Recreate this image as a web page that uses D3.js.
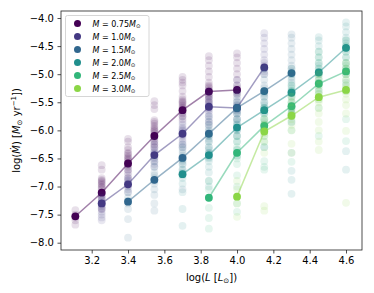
<!DOCTYPE html>
<html>
<head>
<meta charset="utf-8">
<script src="https://cdn.jsdelivr.net/npm/d3@7"></script>
<style>
  body { margin: 0; background: #fff; }
  svg { font-family: "DejaVu Sans", sans-serif; }
</style>
</head>
<body>
<svg id="chart" width="374" height="293"></svg>
<script>
// luminosity bins (log L / Lsun)
var logL = [3.11, 3.255, 3.4, 3.545, 3.70, 3.845, 4.0, 4.15, 4.3, 4.45, 4.6];

var masses = ['0.75', '1.0', '1.5', '2.0', '2.5', '3.0'];

// median log Mdot per bin, null where a mass has no models
var med075 = [-7.53, -7.11, -6.59, -6.10, -5.64, -5.31, -5.28, null, null, null, null];
var med10  = [null, -7.30, -6.96, -6.44, -6.06, -5.58, -5.60, -4.88, null, null, null];
var med15  = [null, null, -7.27, -6.88, -6.49, -6.06, -5.60, -5.30, -4.98, null, null];
var med20  = [null, null, null, null, -6.78, -6.44, -5.95, -5.64, -5.33, -4.97, -4.53];
var med25  = [null, null, null, null, null, -7.20, -6.40, -5.92, -5.57, -5.17, -4.95];
var med30  = [null, null, null, null, null, null, -7.18, -6.02, -5.74, -5.41, -5.28];

// individual models per bin
var pts075 = [
  [-7.42, -7.5, -7.53, -7.55, -7.6, -7.68],
  [-6.62, -6.7, -6.85, -6.88, -6.9, -6.92, -6.95, -6.97, -7.0, -7.02, -7.05, -7.1, -7.15, -7.2, -7.3, -7.4],
  [-6.15, -6.2, -6.3, -6.35, -6.4, -6.42, -6.45, -6.48, -6.5, -6.52, -6.55, -6.58, -6.6, -6.62, -6.65, -6.7, -6.75, -6.85],
  [-5.48, -5.55, -5.62, -5.82, -5.85, -5.88, -5.92, -5.95, -5.98, -6.0, -6.02, -6.05, -6.08, -6.1, -6.12, -6.15, -6.2, -6.25, -6.3],
  [-5.05, -5.1, -5.15, -5.2, -5.3, -5.4, -5.45, -5.48, -5.5, -5.52, -5.55, -5.58, -5.6, -5.62, -5.65, -5.68, -5.7, -5.75, -5.8],
  [-4.68, -4.75, -4.85, -4.95, -5.05, -5.15, -5.2, -5.22, -5.25, -5.28, -5.3, -5.32, -5.35, -5.38, -5.4, -5.45, -5.5],
  [-4.63, -4.7, -4.8, -4.9, -5.0, -5.1, -5.2, -5.25, -5.28, -5.32, -5.35],
  [], [], [], []
];
var pts10 = [
  [],
  [-7.15, -7.2, -7.22, -7.25, -7.28, -7.3, -7.32, -7.35, -7.38, -7.4, -7.45, -7.5, -7.55, -7.6],
  [-6.7, -6.8, -6.85, -6.88, -6.9, -6.93, -6.95, -6.98, -7.0, -7.05, -7.1],
  [-6.2, -6.25, -6.3, -6.35, -6.38, -6.4, -6.42, -6.45, -6.48, -6.5, -6.55, -6.6, -6.65],
  [-5.75, -5.85, -5.9, -5.95, -5.98, -6.0, -6.02, -6.05, -6.08, -6.1, -6.15, -6.2, -6.25, -6.3],
  [-5.3, -5.4, -5.45, -5.5, -5.52, -5.55, -5.58, -5.6, -5.62, -5.65, -5.7, -5.75, -5.8, -5.85, -5.9],
  [-5.1, -5.2, -5.3, -5.4, -5.5, -5.55, -5.58, -5.6, -5.62, -5.65, -5.7, -5.8],
  [-4.27, -4.35, -4.45, -4.55, -4.65, -4.75, -4.8, -4.85, -4.88, -4.9, -4.95, -5.0],
  [], [], []
];
var pts15 = [
  [], [],
  [-7.1, -7.2, -7.25, -7.27, -7.3, -7.4, -7.58, -7.91],
  [-6.55, -6.65, -6.75, -6.8, -6.85, -6.88, -6.9, -6.95, -7.05, -7.15, -7.3, -7.43],
  [-6.25, -6.3, -6.35, -6.4, -6.45, -6.48, -6.5, -6.52, -6.55, -6.6, -6.7, -7.05],
  [-5.75, -5.85, -5.9, -5.95, -6.0, -6.02, -6.05, -6.08, -6.1, -6.15, -6.2, -6.3, -6.4],
  [-5.35, -5.45, -5.5, -5.55, -5.58, -5.6, -5.62, -5.65, -5.7, -5.8, -5.9, -6.0, -6.1],
  [-4.9, -5.0, -5.1, -5.2, -5.25, -5.3, -5.32, -5.35, -5.4, -5.5, -5.6],
  [-4.29, -4.35, -4.45, -4.55, -4.65, -4.75, -4.85, -4.9, -4.95, -4.98, -5.0, -5.05, -5.15, -5.3, -5.7],
  [], []
];
var pts20 = [
  [], [], [], [],
  [-6.6, -6.7, -6.75, -6.78, -6.8, -6.85, -6.95, -7.1, -7.4, -7.7],
  [-6.1, -6.2, -6.3, -6.35, -6.4, -6.42, -6.45, -6.48, -6.5, -6.55, -6.65, -6.75, -6.9, -7.0],
  [-5.7, -5.8, -5.85, -5.9, -5.93, -5.95, -5.98, -6.0, -6.1, -6.2, -6.35, -6.45],
  [-5.3, -5.4, -5.5, -5.55, -5.6, -5.62, -5.65, -5.68, -5.7, -5.8, -5.9, -6.0, -6.3],
  [-4.9, -5.0, -5.1, -5.2, -5.25, -5.3, -5.33, -5.35, -5.4, -5.5, -5.6, -5.7, -5.85, -6.4, -6.72, -6.88, -7.13],
  [-4.34, -4.4, -4.5, -4.6, -4.7, -4.8, -4.85, -4.9, -4.95, -4.97, -5.0, -5.05, -5.15, -5.3],
  [-4.08, -4.15, -4.25, -4.35, -4.4, -4.45, -4.5, -4.53, -4.55, -4.6, -4.7, -4.8, -4.9, -5.0, -5.15, -6.37, -6.7]
];
var pts25 = [
  [], [], [], [], [],
  [-6.9, -7.05, -7.2, -7.38, -7.56, -7.75],
  [-6.1, -6.2, -6.3, -6.35, -6.4, -6.45, -6.5, -6.6, -6.8, -7.0, -7.3, -7.45],
  [-5.6, -5.7, -5.8, -5.85, -5.9, -5.92, -5.95, -6.0, -6.1, -6.2, -6.3, -6.55, -6.65, -6.7],
  [-5.2, -5.3, -5.4, -5.5, -5.55, -5.57, -5.6, -5.65, -5.75, -5.85, -6.0, -6.56],
  [-4.6, -4.7, -4.8, -4.9, -5.0, -5.1, -5.15, -5.17, -5.2, -5.25, -5.35, -5.45, -5.6, -6.1],
  [-4.4, -4.5, -4.6, -4.7, -4.8, -4.85, -4.9, -4.95, -5.0, -5.1, -5.2, -5.3, -5.8, -6.19]
];
var pts30 = [
  [], [], [], [], [], [],
  [-6.9, -7.05, -7.18, -7.3, -7.54],
  [-5.8, -5.9, -6.0, -6.05, -6.1, -6.2, -6.4, -7.35, -7.43],
  [-5.4, -5.5, -5.6, -5.7, -5.72, -5.75, -5.8, -5.9, -6.0, -6.24, -6.4],
  [-5.0, -5.1, -5.2, -5.3, -5.35, -5.41, -5.45, -5.5, -5.6, -5.7, -5.85, -6.0, -6.2, -6.35],
  [-4.8, -4.9, -5.0, -5.1, -5.2, -5.25, -5.28, -5.3, -5.35, -5.45, -5.55, -5.7, -6.01, -7.29]
];

var xTicks = [3.2, 3.4, 3.6, 3.8, 4.0, 4.2, 4.4, 4.6];
var yTicks = [-4.0, -4.5, -5.0, -5.5, -6.0, -6.5, -7.0, -7.5, -8.0];

var medians = [med075, med10, med15, med20, med25, med30];
var points = [pts075, pts10, pts15, pts20, pts25, pts30];
var colors = masses.map(function(d, i){ return d3.interpolateViridis(i * 0.165); });

var svg = d3.select('#chart');
var margin = {left: 61, top: 11, right: 12, bottom: 43};
var W = 374, H = 293;

var x = d3.scaleLinear().domain([3.031, 4.688]).range([margin.left, W - margin.right]);
var y = d3.scaleLinear().domain([-8.13, -3.875]).range([H - margin.bottom, margin.top]);

var fmt = function(d){ return d3.format('.1f')(d).replace('-', '\u2212'); };

// axes
var xAxis = svg.append('g')
  .attr('transform', 'translate(0,' + (H - margin.bottom) + ')')
  .call(d3.axisBottom(x).tickValues(xTicks).tickFormat(fmt).tickSize(3.5).tickPadding(3.5));
var yAxis = svg.append('g')
  .attr('transform', 'translate(' + margin.left + ',0)')
  .call(d3.axisLeft(y).tickValues(yTicks).tickFormat(fmt).tickSize(3.5).tickPadding(3.5));
[xAxis, yAxis].forEach(function(a){
  a.select('.domain').remove();
  a.selectAll('line').attr('stroke', '#222').attr('stroke-width', 0.8);
  a.selectAll('text').attr('font-size', 10).attr('fill', '#000')
    .attr('font-family', '"DejaVu Sans", sans-serif');
});

// data
var plot = svg.append('g');
medians.forEach(function(med, k){
  var col = colors[k];
  var g = plot.append('g');
  var flat = [];
  points[k].forEach(function(vals, i){
    vals.forEach(function(v){ flat.push([logL[i], v]); });
  });
  g.selectAll('circle.pt').data(flat).enter().append('circle')
    .attr('class', 'pt')
    .attr('cx', function(d){ return x(d[0]); })
    .attr('cy', function(d){ return y(d[1]); })
    .attr('r', 3.9)
    .attr('fill', col)
    .attr('fill-opacity', 0.12);

  var line = d3.line()
    .defined(function(d){ return d !== null; })
    .x(function(d, i){ return x(logL[i]); })
    .y(function(d){ return y(d); });
  g.append('path')
    .attr('d', line(med))
    .attr('fill', 'none')
    .attr('stroke', col)
    .attr('stroke-opacity', 0.5)
    .attr('stroke-width', 1.5);

  var mpts = med.map(function(v, i){ return [logL[i], v]; }).filter(function(d){ return d[1] !== null; });
  g.selectAll('circle.med').data(mpts).enter().append('circle')
    .attr('class', 'med')
    .attr('cx', function(d){ return x(d[0]); })
    .attr('cy', function(d){ return y(d[1]); })
    .attr('r', 3.9)
    .attr('fill', col);
});

// frame
svg.append('rect')
  .attr('x', margin.left).attr('y', margin.top)
  .attr('width', W - margin.left - margin.right)
  .attr('height', H - margin.top - margin.bottom)
  .attr('fill', 'none').attr('stroke', '#222').attr('stroke-width', 0.8);

// axis labels
var xl = svg.append('text')
  .attr('x', (margin.left + W - margin.right) / 2).attr('y', 281)
  .attr('text-anchor', 'middle').attr('font-size', 10);
xl.append('tspan').text('log(');
xl.append('tspan').attr('font-style', 'italic').text('L');
xl.append('tspan').text(' [');
xl.append('tspan').attr('font-style', 'italic').text('L');
xl.append('tspan').attr('font-size', 7).attr('dy', 2).text('\u2299');
xl.append('tspan').attr('dy', -2).text('])');

var yl = svg.append('text')
  .attr('transform', 'translate(20,' + ((margin.top + H - margin.bottom) / 2) + ') rotate(-90)')
  .attr('text-anchor', 'middle').attr('font-size', 10);
yl.append('tspan').text('log(');
yl.append('tspan').attr('font-style', 'italic').text('\u1E40');
yl.append('tspan').text(') [');
yl.append('tspan').attr('font-style', 'italic').text('M');
yl.append('tspan').attr('font-size', 7).attr('dy', 2).text('\u2299');
yl.append('tspan').attr('dy', -2).text(' yr');
yl.append('tspan').attr('font-size', 7).attr('dy', -4).text('\u22121');
yl.append('tspan').attr('dy', 4).text('])');

// legend
var leg = svg.append('g').attr('transform', 'translate(65.5,15.5)');
leg.append('rect')
  .attr('width', 83.5).attr('height', 81)
  .attr('rx', 2).attr('fill', '#fff').attr('fill-opacity', 0.8)
  .attr('stroke', '#ccc').attr('stroke-width', 0.8);
masses.forEach(function(m, i){
  var row = leg.append('g').attr('transform', 'translate(0,' + (8 + i * 13) + ')');
  row.append('circle').attr('cx', 12).attr('cy', 0).attr('r', 3.5).attr('fill', colors[i]);
  var t = row.append('text').attr('x', 27).attr('y', 3).attr('font-size', 8);
  t.append('tspan').attr('font-style', 'italic').text('M');
  t.append('tspan').text(' = ' + m);
  t.append('tspan').attr('font-style', 'italic').text('M');
  t.append('tspan').attr('font-size', 5.5).attr('dy', 1.5).text('\u2299');
});
</script>
</body>
</html>
